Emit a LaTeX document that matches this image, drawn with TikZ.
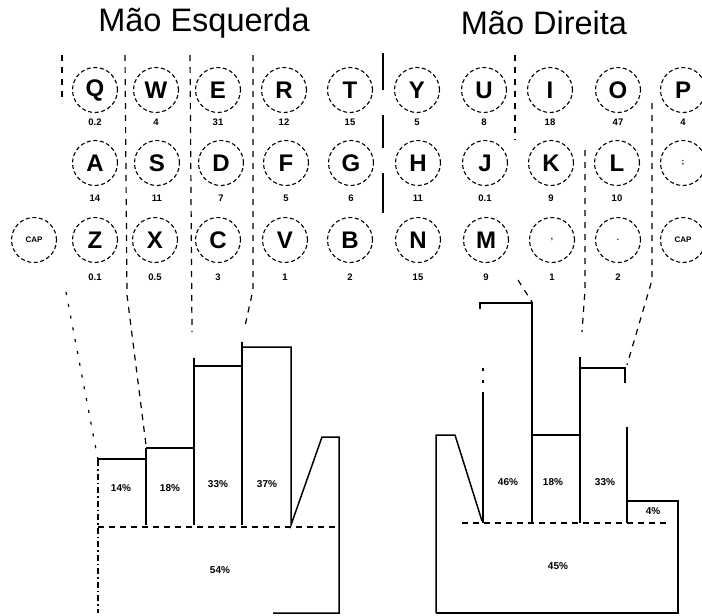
\documentclass[tikz,border=0pt]{standalone}
\usepackage{fontspec}
\setmainfont{Liberation Sans}
\begin{document}
\begin{tikzpicture}[x=1pt,y=-1pt,
  key/.style={circle, draw, dash pattern=on 4pt off 2.6pt, line width=1.1pt,
    minimum size=45pt, inner sep=0pt, font=\fontsize{24}{24}\selectfont\bfseries},
  smallkey/.style={key, font=\fontsize{8}{8}\selectfont\bfseries},
  freq/.style={inner sep=0pt, font=\fontsize{9.5}{10}\selectfont\bfseries},
  pct/.style={inner sep=0pt, font=\fontsize{10}{10}\selectfont\bfseries},
  title/.style={inner sep=0pt, font=\fontsize{32.5}{33}\selectfont},
  bar/.style={line width=1.5pt, line join=miter},
  base/.style={line width=1.3pt, dash pattern=on 6pt off 5pt},
  sep/.style={line width=1.2pt, dash pattern=on 6pt off 6pt},
  sparse/.style={line width=1.2pt, dash pattern=on 3pt off 9pt},
  split/.style={line width=1.3pt}]
\useasboundingbox (0,0) rectangle (702,616);

% hand titles
\node[title] (tL) at (204,23) {Mão Esquerda};
\node[title] (tR) at (544,23) {Mão Direita};

% top row
\foreach \k/\x/\f in {Q/95/0.2, W/156/4, E/218/31, R/284/12, T/350/15,
                       Y/417/5, U/484/8, I/550/18, O/618/47, P/683/4}{
  \node[key] (\k) at (\x,90) {\k};
  \node[freq] (f\k) at (\x,122) {\f};
}
% home row
\foreach \k/\x/\f in {A/95/14, S/157/11, D/221/7, F/286/5, G/351/6,
                       H/418/11, J/485/0.1, K/551/9, L/617/10}{
  \node[key] (\k) at (\x,163) {\k};
  \node[freq] (f\k) at (\x,198) {\f};
}
\node[smallkey] (semi) at (683,163) {;};
% bottom row
\foreach \k/\x/\f in {Z/95/0.1, X/155/0.5, C/218/3, V/285/1, B/350/2,
                       N/418/15, M/486/9}{
  \node[key] (\k) at (\x,240) {\k};
  \node[freq] (f\k) at (\x,277) {\f};
}
\node[smallkey] (comma) at (552,240) {,};
\node[freq] (fcomma) at (552,277) {1};
\node[smallkey] (period) at (618,240) {.};
\node[freq] (fperiod) at (618,277) {2};
\node[smallkey] (capL) at (34,240) {CAP};
\node[smallkey] (capR) at (683,240) {CAP};

% finger boundaries, left hand
\draw[sep] (62,55) -- (62,103);
\draw[sparse] (66,292) -- (98,460);
\draw[sep] (125,55) -- (127,295) -- (146,445);
\draw[sep] (190,55) -- (192,332);
\draw[sep] (253,55) -- (253,290) -- (245,326);
% boundary between the hands
\draw[split] (383,53) -- (383,90);
\draw[split] (383,115) -- (383,148);
\draw[split] (383,173) -- (383,213);
% finger boundaries, right hand
\draw[sep] (515,55) -- (515,140);
\draw[sep] (518,280) -- (532,302);
\draw[sep] (585,150) -- (585,290) -- (582,332);
\draw[sep] (652,103) -- (652,280) -- (627,365);
\draw[sparse] (483,368) -- (483,392);

% left hand histogram
\draw[line width=1.2pt, dash pattern=on 6pt off 3pt on 1.5pt off 3pt] (98,460) -- (98,613);
\draw[bar] (98,459) -- (146,459);
\draw[bar] (146,448) -- (146,525);
\draw[bar] (146,448) -- (194,448);
\draw[bar] (194,358) -- (194,525);
\draw[bar] (194,366) -- (242,366);
\draw[bar] (242,342) -- (242,525);
\draw[bar] (242,347) -- (291,347) -- (291,525) -- (322,437) -- (339,437)
  -- (339,613) -- (273,613);
\draw[base] (98,527) -- (339,527);
\node[pct] (l14) at (121,488) {14\%};
\node[pct] (l18) at (170,488) {18\%};
\node[pct] (l33) at (218,484) {33\%};
\node[pct] (l37) at (267,484) {37\%};
\node[pct] (l54) at (220,570) {54\%};

% right hand histogram
\draw[bar] (436,613) -- (436,435) -- (455,435) -- (482,521);
\draw[bar] (480,309) -- (480,303) -- (532,303) -- (532,523);
\draw[bar] (483,392) -- (483,523);
\draw[bar] (532,435) -- (580,435);
\draw[bar] (580,357) -- (580,523);
\draw[bar] (580,368) -- (625,368) -- (625,383);
\draw[bar] (627,427) -- (627,523);
\draw[bar] (627,501) -- (678,501) -- (678,613) -- (436,613);
\draw[base] (462,523) -- (670,523);
\node[pct] (r46) at (508,482) {46\%};
\node[pct] (r18) at (553,482) {18\%};
\node[pct] (r33) at (605,482) {33\%};
\node[pct] (r4) at (653,511) {4\%};
\node[pct] (r45) at (558,566) {45\%};
\end{tikzpicture}
\end{document}
